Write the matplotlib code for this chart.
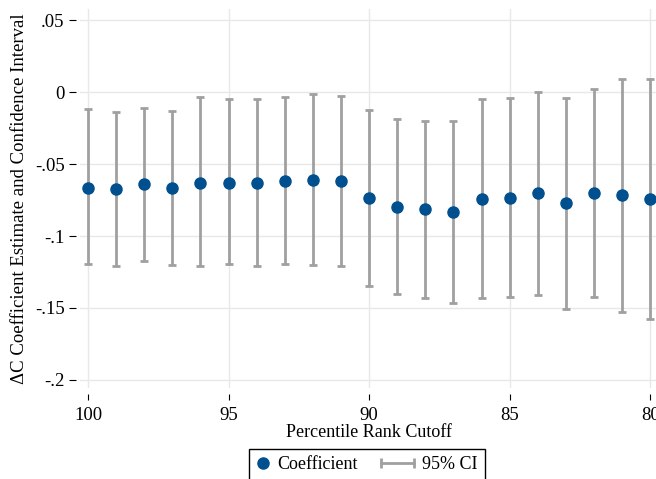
import matplotlib
matplotlib.use("Agg")
import matplotlib.pyplot as plt
import numpy as np
from matplotlib.lines import Line2D
from matplotlib.legend_handler import HandlerBase

# percentile rank cutoffs and estimates
cutoff = [100, 99, 98, 97, 96, 95, 94, 93, 92, 91, 90,
          89, 88, 87, 86, 85, 84, 83, 82, 81, 80]
coef = [-0.0663, -0.0674, -0.0639, -0.0669, -0.0628, -0.0628, -0.0632, -0.0618, -0.0611, -0.0616, -0.0736,
        -0.0797, -0.0815, -0.0831, -0.0739, -0.0734, -0.0704, -0.0773, -0.0701, -0.0718, -0.0741]
ci_hi = [-0.0116, -0.0135, -0.0109, -0.0132, -0.0037, -0.0047, -0.0049, -0.0037, -0.0012, -0.0026, -0.0125,
         -0.0188, -0.0199, -0.0197, -0.0049, -0.0044, 0.0002, -0.0042, 0.0021, 0.0092, 0.0092]
ci_lo = [-0.1194, -0.1206, -0.1172, -0.1199, -0.1211, -0.1197, -0.1206, -0.1192, -0.1201, -0.1206, -0.1347,
         -0.1406, -0.1433, -0.1465, -0.1429, -0.1422, -0.1410, -0.1507, -0.1424, -0.1526, -0.1574]
yticks = [0.05, 0, -0.05, -0.1, -0.15, -0.2]
ytick_labels = [".05", "0", "-.05", "-.1", "-.15", "-.2"]
xticks = [100, 95, 90, 85, 80]

MARKER = "#00508F"
CI_GREY = "#A0A0A0"
GRID = "#E8E8E8"

plt.rcParams['font.family'] = ['Liberation Serif', 'DejaVu Serif']
plt.rcParams['font.size'] = 13


class HandlerCI(HandlerBase):
    """horizontal bar with caps, stretched a bit to the left like stata does"""
    def create_artists(self, legend, orig_handle, xdescent, ydescent, width, height, fontsize, trans):
        x0 = -xdescent - width * 1.6
        x1 = width - xdescent
        y = height / 2 - ydescent
        ln = Line2D([x0, x1], [y, y], color=CI_GREY, lw=2, transform=trans)
        caps = Line2D([x0, x1], [y, y], ls="none", marker="|", ms=7, mew=2, color=CI_GREY, transform=trans)
        return [ln, caps]


fig = plt.figure(figsize=(6.56, 4.79), dpi=100)
ax = fig.add_axes([80 / 656, 91 / 479, 578.3 / 656, 379 / 479])

x = np.array(cutoff)
c = np.array(coef)
lo = np.array(ci_lo)
hi = np.array(ci_hi)

ax.errorbar(x, c, yerr=[c - lo, hi - c], fmt="none", ecolor=CI_GREY, elinewidth=2,
            capsize=3, capthick=2, zorder=2)
ax.plot(x, c, "o", color=MARKER, ms=8, zorder=3)

ax.set_xlim(100.285, 79.715)
ax.set_ylim(-0.2056, 0.0578)
ax.set_xticks(xticks)
ax.set_xticklabels([str(t) for t in xticks])
ax.set_yticks(yticks)
ax.set_yticklabels(ytick_labels)

ax.grid(True, color=GRID, lw=1)
ax.set_axisbelow(True)
for s in ax.spines.values():
    s.set_visible(False)
ax.spines['left'].set_position(('outward', 3))
ax.spines['bottom'].set_position(('outward', 4))
ax.tick_params(axis='y', length=5, width=0.8, pad=3, labelsize=13.5)
ax.tick_params(axis='x', length=4.5, width=0.8, pad=5, labelsize=13.5)

ax.set_xlabel("Percentile Rank Cutoff", fontsize=13, labelpad=0)
ax.set_ylabel("ΔC Coefficient Estimate and Confidence Interval", fontsize=13.5, labelpad=5)

h_coef = Line2D([], [], ls="none", marker="o", color=MARKER, ms=8)
h_ci = Line2D([], [], color=CI_GREY)
leg = fig.legend([h_coef, h_ci], ["Coefficient", "95% CI"], ncol=2,
                 loc="upper left", bbox_to_anchor=(249 / 656, 1 - 449 / 479),
                 handler_map={h_ci: HandlerCI()}, handlelength=0.7, handletextpad=0.45,
                 columnspacing=2.44, borderpad=0.4, borderaxespad=0, fancybox=False,
                 edgecolor="black", framealpha=1, fontsize=13)
leg.get_frame().set_linewidth(1)

fig.savefig("out.png", dpi=100)
